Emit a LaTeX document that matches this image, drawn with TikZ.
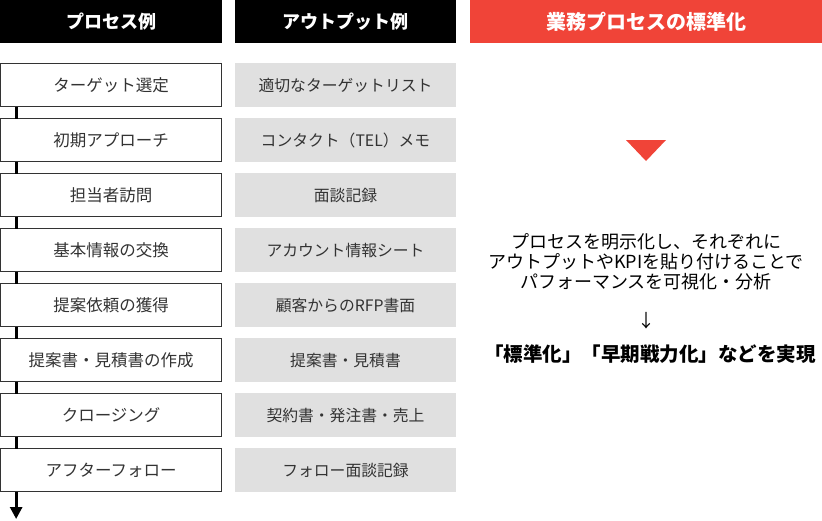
\documentclass[tikz,border=0pt]{standalone}
\usepackage{fontspec}
\setmainfont{Noto Sans CJK JP}
\usepackage{tikz}
\usetikzlibrary{positioning,arrows.meta}
\definecolor{stdred}{HTML}{F04438}
\definecolor{outgray}{HTML}{E0E0E0}
\definecolor{boxline}{HTML}{333333}

\begin{document}
\begin{tikzpicture}[x=1pt,y=1pt,
    head/.style={anchor=north west,fill=black,text=white,minimum width=222pt,minimum height=43pt,inner sep=0pt,font=\fontsize{18}{20}\selectfont\bfseries},
    procbox/.style={draw=boxline,line width=1.3pt,fill=white,minimum width=221pt,minimum height=43pt,inner sep=0pt,outer sep=0pt,text=boxline,font=\fontsize{16.5}{18}\selectfont},
    outbox/.style={fill=outgray,minimum width=221pt,minimum height=44pt,inner sep=0pt,outer sep=0pt,text=boxline,font=\fontsize{15.8}{18}\selectfont},
    flow/.style={line width=2.8pt,black},
    node distance=12pt]

    \useasboundingbox (0,0) rectangle (822,-520);

    \node[head] (hproc) at (0,0) {プロセス例};
    \node[head,minimum width=221pt] (hout) at (235,0) {アウトプット例};
    \node[head,fill=stdred,minimum width=352pt,font=\fontsize{20}{22}\selectfont\bfseries] (hstd) at (470,0) {業務プロセスの標準化};

    \node[procbox,anchor=north west] (p1) at (0.65,-63.65) {ターゲット選定};
    \node[procbox,below=of p1] (p2) {初期アプローチ};
    \node[procbox,below=of p2] (p3) {担当者訪問};
    \node[procbox,below=of p3] (p4) {基本情報の交換};
    \node[procbox,below=of p4] (p5) {提案依頼の獲得};
    \node[procbox,below=of p5] (p6) {提案書・見積書の作成};
    \node[procbox,below=of p6] (p7) {クロージング};
    \node[procbox,below=of p7] (p8) {アフターフォロー};

    \node[outbox,right=13.35pt of p1] (o1) {適切なターゲットリスト};
    \node[outbox,right=13.35pt of p2] (o2) {コンタクト（TEL）メモ};
    \node[outbox,right=13.35pt of p3] (o3) {面談記録};
    \node[outbox,right=13.35pt of p4] (o4) {アカウント情報シート};
    \node[outbox,right=13.35pt of p5] (o5) {顧客からのRFP書面};
    \node[outbox,right=13.35pt of p6] (o6) {提案書・見積書};
    \node[outbox,right=13.35pt of p7] (o7) {契約書・発注書・売上};
    \node[outbox,right=13.35pt of p8] (o8) {フォロー面談記録};

    \draw[flow] ([xshift=15.5pt]p1.south west) -- ([xshift=15.5pt]p2.north west);
    \draw[flow] ([xshift=15.5pt]p2.south west) -- ([xshift=15.5pt]p3.north west);
    \draw[flow] ([xshift=15.5pt]p3.south west) -- ([xshift=15.5pt]p4.north west);
    \draw[flow] ([xshift=15.5pt]p4.south west) -- ([xshift=15.5pt]p5.north west);
    \draw[flow] ([xshift=15.5pt]p5.south west) -- ([xshift=15.5pt]p6.north west);
    \draw[flow] ([xshift=15.5pt]p6.south west) -- ([xshift=15.5pt]p7.north west);
    \draw[flow] ([xshift=15.5pt]p7.south west) -- ([xshift=15.5pt]p8.north west);
    \coordinate (pend) at (16.15,-519);
    \draw[flow,-{Triangle[width=12pt,length=12pt]}] ([xshift=15.5pt]p8.south west) -- (pend);

    % standardisation column
    \fill[stdred] (626,-140) -- (666,-140) -- (646,-161) -- cycle;
    \node[align=center,font=\fontsize{18}{20}\selectfont] (desc) at (646,-262)
        {プロセスを明示化し、それぞれに\\アウトプットやKPIを貼り付けることで\\パフォーマンスを可視化・分析};
    \node[font=\fontsize{18}{20}\selectfont] (darrow) at (646,-321) {↓};
    \node[font=\fontsize{19.5}{22}\selectfont\bfseries] (result) at (650,-354) {「標準化」「早期戦力化」などを実現};

\end{tikzpicture}
\end{document}
